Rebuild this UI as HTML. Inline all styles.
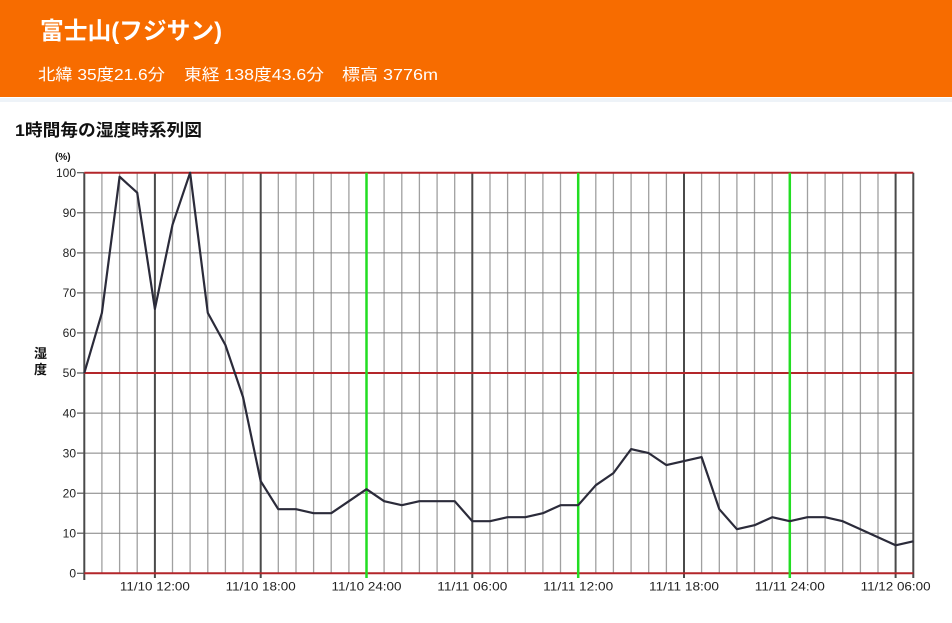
<!DOCTYPE html>
<html><head><meta charset="utf-8">
<style>
html,body{margin:0;padding:0;background:#fff;}
body{width:952px;height:623px;overflow:hidden;}
svg{display:block;}
text{font-family:"Liberation Sans","Noto Sans CJK JP",sans-serif;}
</style></head>
<body>
<svg width="952" height="623" viewBox="0 0 952 623" xmlns="http://www.w3.org/2000/svg">
<rect x="0" y="0" width="952" height="97" fill="#f76c00"/>
<rect x="0" y="98" width="952" height="4" fill="#eef3f8"/>
<text x="40" y="39" font-size="24" font-weight="bold" fill="#fff" textLength="182" lengthAdjust="spacingAndGlyphs">富士山(フジサン)</text>
<text x="38" y="80" font-size="16" fill="#fff" textLength="127" lengthAdjust="spacingAndGlyphs">北緯 35度21.6分</text>
<text x="184" y="80" font-size="16" fill="#fff" textLength="140" lengthAdjust="spacingAndGlyphs">東経 138度43.6分</text>
<text x="342" y="80" font-size="16" fill="#fff" textLength="96" lengthAdjust="spacingAndGlyphs">標高 3776m</text>
<text x="15" y="136" font-size="17" font-weight="bold" fill="#111" textLength="187" lengthAdjust="spacingAndGlyphs">1時間毎の湿度時系列図</text>

<text x="55" y="160" font-size="10" font-weight="bold" fill="#111">(%)</text>
<text x="40.5" y="358" font-size="13" font-weight="bold" fill="#111" text-anchor="middle">湿</text>
<text x="40.5" y="374" font-size="13" font-weight="bold" fill="#111" text-anchor="middle">度</text>

<!-- light vertical hour lines -->
<g stroke="#a0a0a0" stroke-width="1.3">
<line x1="101.9" y1="172.7" x2="101.9" y2="573.3"/>
<line x1="119.6" y1="172.7" x2="119.6" y2="573.3"/>
<line x1="137.2" y1="172.7" x2="137.2" y2="573.3"/>
<line x1="172.5" y1="172.7" x2="172.5" y2="573.3"/>
<line x1="190.1" y1="172.7" x2="190.1" y2="573.3"/>
<line x1="207.8" y1="172.7" x2="207.8" y2="573.3"/>
<line x1="225.4" y1="172.7" x2="225.4" y2="573.3"/>
<line x1="243.0" y1="172.7" x2="243.0" y2="573.3"/>
<line x1="278.3" y1="172.7" x2="278.3" y2="573.3"/>
<line x1="296.0" y1="172.7" x2="296.0" y2="573.3"/>
<line x1="313.6" y1="172.7" x2="313.6" y2="573.3"/>
<line x1="331.2" y1="172.7" x2="331.2" y2="573.3"/>
<line x1="348.9" y1="172.7" x2="348.9" y2="573.3"/>
<line x1="384.1" y1="172.7" x2="384.1" y2="573.3"/>
<line x1="401.8" y1="172.7" x2="401.8" y2="573.3"/>
<line x1="419.4" y1="172.7" x2="419.4" y2="573.3"/>
<line x1="437.1" y1="172.7" x2="437.1" y2="573.3"/>
<line x1="454.7" y1="172.7" x2="454.7" y2="573.3"/>
<line x1="490.0" y1="172.7" x2="490.0" y2="573.3"/>
<line x1="507.6" y1="172.7" x2="507.6" y2="573.3"/>
<line x1="525.3" y1="172.7" x2="525.3" y2="573.3"/>
<line x1="542.9" y1="172.7" x2="542.9" y2="573.3"/>
<line x1="560.5" y1="172.7" x2="560.5" y2="573.3"/>
<line x1="595.8" y1="172.7" x2="595.8" y2="573.3"/>
<line x1="613.4" y1="172.7" x2="613.4" y2="573.3"/>
<line x1="631.1" y1="172.7" x2="631.1" y2="573.3"/>
<line x1="648.7" y1="172.7" x2="648.7" y2="573.3"/>
<line x1="666.4" y1="172.7" x2="666.4" y2="573.3"/>
<line x1="701.6" y1="172.7" x2="701.6" y2="573.3"/>
<line x1="719.3" y1="172.7" x2="719.3" y2="573.3"/>
<line x1="736.9" y1="172.7" x2="736.9" y2="573.3"/>
<line x1="754.5" y1="172.7" x2="754.5" y2="573.3"/>
<line x1="772.2" y1="172.7" x2="772.2" y2="573.3"/>
<line x1="807.5" y1="172.7" x2="807.5" y2="573.3"/>
<line x1="825.1" y1="172.7" x2="825.1" y2="573.3"/>
<line x1="842.7" y1="172.7" x2="842.7" y2="573.3"/>
<line x1="860.4" y1="172.7" x2="860.4" y2="573.3"/>
<line x1="878.0" y1="172.7" x2="878.0" y2="573.3"/>
</g>
<!-- horizontal grey lines -->
<g stroke="#808080" stroke-width="1">
<line x1="84.3" y1="533.2" x2="913.3" y2="533.2"/>
<line x1="84.3" y1="493.2" x2="913.3" y2="493.2"/>
<line x1="84.3" y1="453.1" x2="913.3" y2="453.1"/>
<line x1="84.3" y1="413.1" x2="913.3" y2="413.1"/>
<line x1="84.3" y1="332.9" x2="913.3" y2="332.9"/>
<line x1="84.3" y1="292.9" x2="913.3" y2="292.9"/>
<line x1="84.3" y1="252.9" x2="913.3" y2="252.9"/>
<line x1="84.3" y1="212.8" x2="913.3" y2="212.8"/>
</g>
<!-- dark 6h lines -->
<g stroke="#4a4a4a" stroke-width="2">
<line x1="154.9" y1="172.7" x2="154.9" y2="578"/>
<line x1="260.7" y1="172.7" x2="260.7" y2="578"/>
<line x1="472.3" y1="172.7" x2="472.3" y2="578"/>
<line x1="684.0" y1="172.7" x2="684.0" y2="578"/>
<line x1="895.6" y1="172.7" x2="895.6" y2="578"/>
<line x1="913.3" y1="172.7" x2="913.3" y2="578"/>
<line x1="84.3" y1="172.7" x2="84.3" y2="580"/>
</g>
<!-- y ticks -->
<g stroke="#555" stroke-width="1.2">
<line x1="77" y1="573.3" x2="84.3" y2="573.3"/>
<line x1="77" y1="533.2" x2="84.3" y2="533.2"/>
<line x1="77" y1="493.2" x2="84.3" y2="493.2"/>
<line x1="77" y1="453.1" x2="84.3" y2="453.1"/>
<line x1="77" y1="413.1" x2="84.3" y2="413.1"/>
<line x1="77" y1="373.0" x2="84.3" y2="373.0"/>
<line x1="77" y1="332.9" x2="84.3" y2="332.9"/>
<line x1="77" y1="292.9" x2="84.3" y2="292.9"/>
<line x1="77" y1="252.9" x2="84.3" y2="252.9"/>
<line x1="77" y1="212.8" x2="84.3" y2="212.8"/>
<line x1="77" y1="172.7" x2="84.3" y2="172.7"/>
</g>
<!-- red lines -->
<g stroke="#b3262a" stroke-width="2">
<line x1="84.3" y1="172.7" x2="913.3" y2="172.7"/>
<line x1="84.3" y1="373.0" x2="913.3" y2="373.0"/>
<line x1="84.3" y1="573.3" x2="913.3" y2="573.3"/>
</g>
<!-- green day lines -->
<g stroke="#22dd22" stroke-width="2.5">
<line x1="366.5" y1="172.7" x2="366.5" y2="578"/>
<line x1="578.2" y1="172.7" x2="578.2" y2="578"/>
<line x1="789.8" y1="172.7" x2="789.8" y2="578"/>
</g>
<!-- data -->
<polyline fill="none" stroke="#2b2b3a" stroke-width="2.2" stroke-linejoin="round" points="84.3,373.0 101.9,312.9 119.6,176.7 137.2,192.7 154.9,308.9 172.5,224.8 190.1,172.7 207.8,312.9 225.4,345.0 243.0,397.0 260.7,481.2 278.3,509.2 296.0,509.2 313.6,513.2 331.2,513.2 348.9,501.2 366.5,489.2 384.1,501.2 401.8,505.2 419.4,501.2 437.1,501.2 454.7,501.2 472.3,521.2 490.0,521.2 507.6,517.2 525.3,517.2 542.9,513.2 560.5,505.2 578.2,505.2 595.8,485.2 613.4,473.1 631.1,449.1 648.7,453.1 666.4,465.1 684.0,461.1 701.6,457.1 719.3,509.2 736.9,529.2 754.5,525.2 772.2,517.2 789.8,521.2 807.5,517.2 825.1,517.2 842.7,521.2 860.4,529.2 878.0,537.2 895.6,545.3 913.3,541.3"/>
<!-- y labels -->
<g font-size="12" fill="#222" text-anchor="end">
<text x="76" y="577.5">0</text>
<text x="76" y="537.4">10</text>
<text x="76" y="497.4">20</text>
<text x="76" y="457.3">30</text>
<text x="76" y="417.3">40</text>
<text x="76" y="377.2">50</text>
<text x="76" y="337.1">60</text>
<text x="76" y="297.1">70</text>
<text x="76" y="257.1">80</text>
<text x="76" y="217.0">90</text>
<text x="76" y="176.9">100</text>
</g>
<!-- x labels -->
<g font-size="12" fill="#222" text-anchor="middle">
<text x="154.9" y="590.5" textLength="70" lengthAdjust="spacingAndGlyphs">11/10 12:00</text>
<text x="260.7" y="590.5" textLength="70" lengthAdjust="spacingAndGlyphs">11/10 18:00</text>
<text x="366.5" y="590.5" textLength="70" lengthAdjust="spacingAndGlyphs">11/10 24:00</text>
<text x="472.3" y="590.5" textLength="70" lengthAdjust="spacingAndGlyphs">11/11 06:00</text>
<text x="578.2" y="590.5" textLength="70" lengthAdjust="spacingAndGlyphs">11/11 12:00</text>
<text x="684.0" y="590.5" textLength="70" lengthAdjust="spacingAndGlyphs">11/11 18:00</text>
<text x="789.8" y="590.5" textLength="70" lengthAdjust="spacingAndGlyphs">11/11 24:00</text>
<text x="895.6" y="590.5" textLength="70" lengthAdjust="spacingAndGlyphs">11/12 06:00</text>
</g>
</svg>
</body></html>
